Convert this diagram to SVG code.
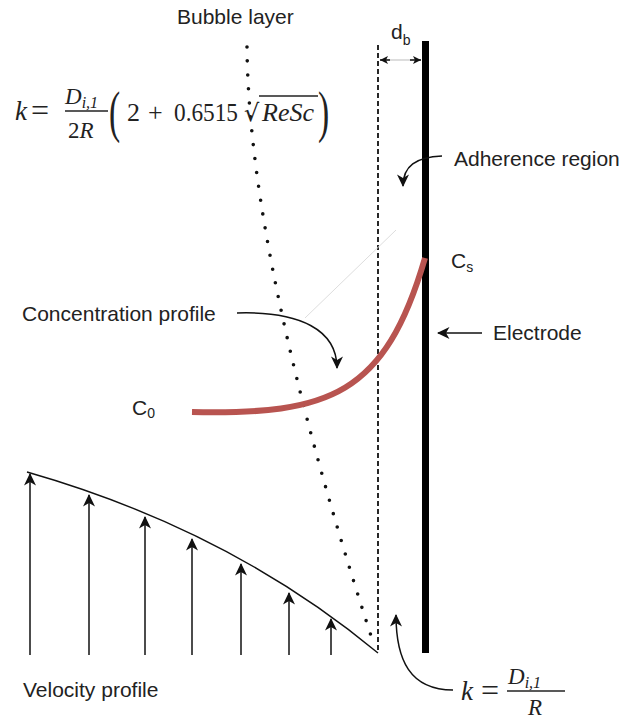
<svg xmlns="http://www.w3.org/2000/svg" width="624" height="722" viewBox="0 0 624 722">
<style>
.lbl{font-family:"Liberation Sans",Arial,sans-serif;font-size:21px;fill:#222}
.sub{font-size:14px}
.m{font-family:"Liberation Serif","Times New Roman",serif;fill:#222}
.i{font-style:italic}
.ln{fill:none;stroke:#111;stroke-width:1.5}
</style>
<defs>
<marker id="ah" markerUnits="userSpaceOnUse" markerWidth="14" markerHeight="14" viewBox="0 0 14 14" refX="12" refY="7" orient="auto">
<path d="M0.5,1 L13,7 L0.5,13 L4,7 z" fill="#111"/>
</marker>
<marker id="sh" markerUnits="userSpaceOnUse" markerWidth="10" markerHeight="10" viewBox="0 0 10 10" refX="9" refY="5" orient="auto">
<path d="M1,1 L9,5 L1,9 L3,5 z" fill="#111"/>
</marker>
</defs>

<g id="electrode">
<rect x="422" y="41" width="7" height="612" fill="#000"/>
</g>

<g id="adherence-boundary">
<line x1="378" y1="45" x2="378" y2="650" stroke="#111" stroke-width="1.8" stroke-dasharray="5 3"/>
</g>

<g id="bubble-layer-line">
<path d="M247,47 Q249,262 374,645" fill="none" stroke="#111" stroke-width="3.6" stroke-linecap="round" stroke-dasharray="0 14"/>
</g>

<g id="concentration-curve">
<path d="M192,412 C330,415 385,395 425,258" fill="none" stroke="#b85450" stroke-width="6"/>
</g>

<g id="velocity-profile">
<path d="M27,472 Q230,530 378,653" fill="none" stroke="#111" stroke-width="1.4"/>
</g>

<g id="connectors">
<line x1="305" y1="318" x2="396" y2="230" stroke="#ddd" stroke-width="1"/>
<line x1="381" y1="60" x2="420" y2="60" stroke="#bbb" stroke-width="1"/>
<line x1="390" y1="60" x2="380" y2="60" class="ln" stroke-width="0.5" marker-end="url(#sh)"/>
<line x1="410" y1="60" x2="421" y2="60" class="ln" stroke-width="0.5" marker-end="url(#sh)"/>
<path d="M442,156 C416,157 403,166 403,186" class="ln" marker-end="url(#ah)"/>
<path d="M237,313 C300,311 337,330 337,368" class="ln" marker-end="url(#ah)"/>
<path d="M482,333 L438,333" class="ln" marker-end="url(#ah)"/>
<path d="M453,690 C410,690 396,660 396,615" class="ln" marker-end="url(#ah)"/>
<line x1="30" y1="655" x2="30" y2="474" class="ln" marker-end="url(#ah)"/>
<line x1="89" y1="655" x2="89" y2="495" class="ln" marker-end="url(#ah)"/>
<line x1="145" y1="655" x2="145" y2="517" class="ln" marker-end="url(#ah)"/>
<line x1="192" y1="655" x2="192" y2="539" class="ln" marker-end="url(#ah)"/>
<line x1="241" y1="655" x2="241" y2="564" class="ln" marker-end="url(#ah)"/>
<line x1="289" y1="655" x2="289" y2="593" class="ln" marker-end="url(#ah)"/>
<line x1="331" y1="655" x2="331" y2="619" class="ln" marker-end="url(#ah)"/>
</g>

<g id="labels">
<text class="lbl" x="177" y="24">Bubble layer</text>
<text class="lbl" x="391" y="39" font-size="17">d<tspan class="sub" dy="6">b</tspan></text>
<text class="lbl" x="454" y="166">Adherence region</text>
<text class="lbl" x="451" y="268">C<tspan class="sub" dy="4">s</tspan></text>
<text class="lbl" x="493" y="340">Electrode</text>
<text class="lbl" x="22" y="321">Concentration profile</text>
<text class="lbl" x="132" y="415">C<tspan class="sub" dy="3">0</tspan></text>
<text class="lbl" x="23" y="697">Velocity profile</text>
</g>

<g id="formula-top" class="m">
<text x="15" y="120" font-size="27" class="i">k</text>
<text x="31" y="121" font-size="32">=</text>
<text x="65" y="104" font-size="23" class="i">D<tspan font-size="16" dy="4">i,1</tspan></text>
<line x1="65" y1="111" x2="108" y2="111" stroke="#222" stroke-width="1.3"/>
<text x="68" y="138" font-size="23">2<tspan class="i">R</tspan></text>
<text transform="translate(109,131) scale(0.6,1)" font-size="56">(</text>
<text x="127" y="121" font-size="26">2</text>
<text x="148" y="121" font-size="26">+</text>
<text x="174" y="121" font-size="26" textLength="64" lengthAdjust="spacingAndGlyphs">0.6515</text>
<text x="244" y="121" font-size="24" font-family="DejaVu Serif,serif">√</text>
<line x1="259" y1="96" x2="318" y2="96" stroke="#222" stroke-width="1.3"/>
<text x="262" y="121" font-size="26" class="i">ReSc</text>
<text transform="translate(318,131) scale(0.6,1)" font-size="56">)</text>
</g>

<g id="formula-bottom" class="m">
<text x="461" y="700" font-size="27" class="i">k</text>
<text x="481" y="701" font-size="32">=</text>
<text x="508" y="684" font-size="23" class="i">D<tspan font-size="16" dy="4">i,1</tspan></text>
<line x1="507" y1="691" x2="565" y2="691" stroke="#222" stroke-width="1.3"/>
<text x="528" y="715" font-size="23" class="i">R</text>
</g>
</svg>
